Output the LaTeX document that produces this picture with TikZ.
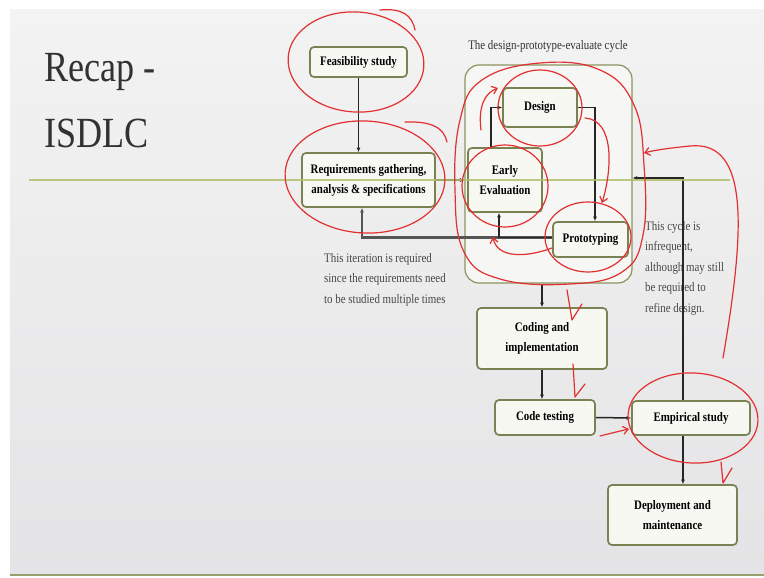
\documentclass[tikz,border=0pt]{standalone}
\usepackage{fontspec}
\setmainfont{Liberation Serif}[FakeStretch=0.84]
\usetikzlibrary{arrows.meta,calc}
\definecolor{boxedge}{RGB}{122,130,84}
\definecolor{boxfill}{RGB}{248,248,243}
\definecolor{cycedge}{RGB}{138,148,96}
\definecolor{cycfill}{RGB}{246,246,244}
\definecolor{sepline}{RGB}{178,192,108}
\definecolor{bottomline}{RGB}{150,160,110}
\definecolor{bgtop}{RGB}{243,243,243}
\definecolor{bgbot}{RGB}{228,228,230}
\definecolor{penred}{RGB}{226,48,48}
\definecolor{notegray}{RGB}{72,72,72}
\definecolor{titlegray}{RGB}{50,50,50}
\definecolor{conngray}{RGB}{85,85,85}
\tikzset{
  box/.style={draw=boxedge, line width=1.7pt, rounded corners=4pt, fill=boxfill, inner sep=0pt, align=center, font=\fontsize{13}{20}\selectfont\bfseries, text=black},
  conn/.style={draw=black!85, line width=1.5pt, -{Latex[length=4.5pt,width=4pt]}},
  note/.style={align=left, font=\fontsize{13}{20.5}\selectfont, text=notegray, inner sep=0pt},
  redpen/.style={draw=penred, line width=1.2pt, line cap=round, line join=round},
  redarrow/.style={redpen, -{Straight Barb[length=5pt,width=8pt]}},
}
\begin{document}
\begin{tikzpicture}[x=1pt,y=-1pt]
\useasboundingbox (0,0) rectangle (764,578);
\fill[white] (0,0) rectangle (764,578);
\shade[top color=bgtop, bottom color=bgbot] (10,10) rectangle (764,574);
\draw[line width=2pt, color=bottomline] (10,575) -- (764,575);

% title
\node[anchor=base west, font=\fontsize{43}{43}\selectfont, text=titlegray, inner sep=0pt] (t1) at (44,82) {Recap -};
\node[anchor=base west, font=\fontsize{43}{43}\selectfont, text=titlegray, inner sep=0pt] (t2) at (44,147) {ISDLC};

% cycle container
\node[draw=cycedge, line width=1.2pt, rounded corners=14pt, fill=cycfill, minimum width=167pt, minimum height=218pt, inner sep=0pt] (cyc) at (548.5,174) {};
\node[note, align=center, text=titlegray] (cyctitle) at (548,46) {The design-prototype-evaluate cycle};

% boxes
\node[box, minimum width=97pt, minimum height=30pt] (feas) at (358.5,62) {Feasibility study};
\node[box, minimum width=133pt, minimum height=54pt] (req) at (368.5,180) {Requirements gathering,\\analysis \& specifications};
\node[box, minimum width=74pt, minimum height=39pt] (design) at (540,107.5) {Design};
\node[box, minimum width=74pt, minimum height=64pt] (early) at (505,180) {Early\\Evaluation};
\node[box, minimum width=75pt, minimum height=35pt] (proto) at (590.5,239.5) {Prototyping};
\node[box, minimum width=130pt, minimum height=61pt] (coding) at (542,338.5) {Coding and\\implementation};
\node[box, minimum width=100pt, minimum height=35pt] (test) at (545,417.5) {Code testing};
\node[box, minimum width=118pt, minimum height=34pt] (emp) at (691,418) {Empirical study};
\node[box, minimum width=129pt, minimum height=60pt] (deploy) at (672.5,515) {Deployment and\\maintenance};

% notes
\node[note, anchor=north west] (iter) at (324,253) {This iteration is required\\since the requirements need\\to be studied multiple times};
\node[note, anchor=north west] (cyclenote) at (645,221) {This cycle is\\infrequent,\\although may still\\be required to\\refine design.};

% connectors
\draw[conn] (feas.south) -- (feas.south |- req.north);
\draw[conn] (req.east) -- (req.east -| cyc.west);
\draw[conn] ([xshift=-14pt]early.north) |- (design.west);
\draw[conn] (design.east) -| ([xshift=4.5pt]proto.north);
\draw[conn, draw=conngray, line width=2.2pt] ([yshift=2pt]proto.west) -| ([xshift=-6.5pt]req.south);
\draw[conn] ([yshift=2pt]proto.west) -| ([xshift=-6pt]early.south);
\draw[conn] (cyc.south -| coding.north) -- (coding.north);
\draw[conn] (coding.south) -- (coding.south |- test.north);
\draw[conn] (test.east) -- (emp.west);
\coordinate (cycin) at ([yshift=-4pt]cyc.east);
\draw[conn] ([xshift=-8pt]emp.north) |- (cycin);
\draw[conn] ([xshift=-8pt]emp.south) -- ([xshift=-8pt]emp.south |- deploy.north);

% slide separator line
\draw[line width=2pt, color=sepline, opacity=0.85] (29,180) -- (730,180);

% red hand annotations
\draw[redpen, rotate around={-4:(356,62)}] (356,62) ellipse [x radius=68pt, y radius=50pt];
\draw[redpen] (380,10) .. controls (402,8) and (412,15) .. (415,30);
\draw[redpen, rotate around={-3:(365,177)}] (365,177) ellipse [x radius=80pt, y radius=56pt];
\draw[redpen] (405,122) .. controls (432,121) and (444,128) .. (447,142);
\draw[redpen] plot[smooth cycle, tension=0.7] coordinates {(540,63) (600,70) (634,105) (644,165) (643,235) (622,272) (570,284) (500,279) (464,252) (455,190) (460,120) (482,80)};
\draw[redpen] (540,108) ellipse [x radius=42pt, y radius=38pt];
\draw[redpen] (505,186) ellipse [x radius=43pt, y radius=41pt];
\draw[redpen] (588,237) ellipse [x radius=43pt, y radius=35pt];
\draw[redarrow] (481,130) .. controls (478,106) and (485,93) .. (498,88);
\draw[redarrow] (585,118) .. controls (615,120) and (612,170) .. (602,203);
\draw[redarrow] (552,248) .. controls (525,258) and (497,258) .. (493,237);
\draw[redarrow] (723,358) .. controls (745,230) and (750,140) .. (690,146) .. controls (670,148) and (655,150) .. (644,153);
\draw[redpen, rotate around={-3:(693,418)}] (693,418) ellipse [x radius=65pt, y radius=45pt];
\draw[redarrow] (600,436) .. controls (612,433) and (620,431) .. (629,429);
\draw[redpen] (567,290) -- (572,320) -- (582,304);
\draw[redpen] (573,364) -- (575,397) -- (585,384);
\draw[redpen] (721,462) -- (723,483) -- (732,468);
\end{tikzpicture}
\end{document}
